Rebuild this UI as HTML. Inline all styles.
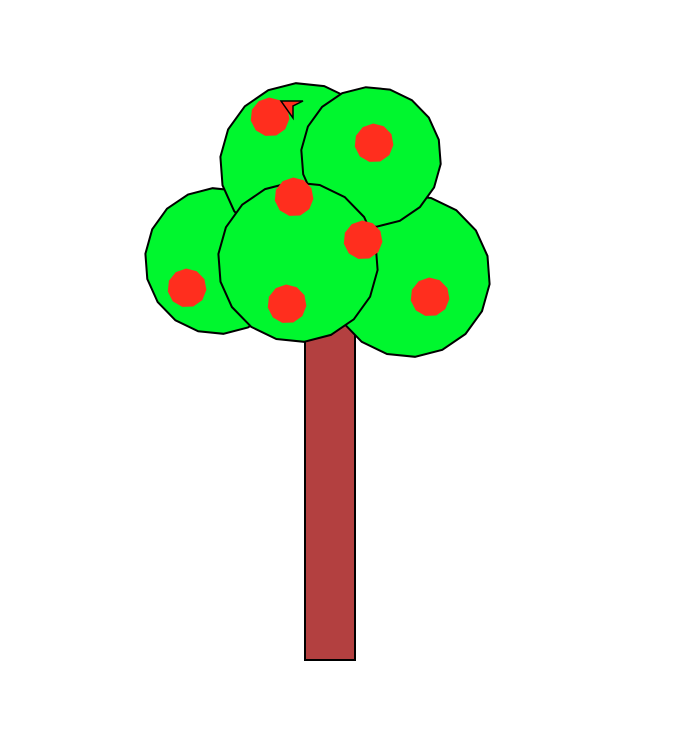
<!DOCTYPE html>
<html><head><meta charset="utf-8"><style>html,body{margin:0;padding:0;background:#fff}svg{display:block}</style></head>
<body>
<svg id="s" width="676" height="756" viewBox="0 0 676 756">
<rect x="305" y="300" width="50" height="360" fill="#b34040" stroke="#000" stroke-width="2"/>
</svg>
<script>
const s=document.getElementById('s');
const NS='http://www.w3.org/2000/svg';
function poly(cx,cy,r,n,fill,stroke,name){
  const p=document.createElementNS(NS,'polygon');
  let pts=[];
  for(let i=0;i<n;i++){const a=2*Math.PI*i/n+0.1;pts.push((cx+r*Math.cos(a)).toFixed(1)+','+(cy+r*Math.sin(a)).toFixed(1));}
  p.setAttribute('points',pts.join(' '));
  p.setAttribute('fill',fill);
  if(stroke){p.setAttribute('stroke','#000');p.setAttribute('stroke-width','2');}
  
  
  s.appendChild(p);
}
const G='#00f72e',R='#ff2e1e';
poly(218,261,73,18,G,1,'foliage-left');
poly(409,276,81,18,G,1,'foliage-right');
poly(302,165,82,18,G,1,'foliage-top-left');
poly(371,157,70,18,G,1,'foliage-top-right');
poly(298,262,80,18,G,1,'foliage-center');
[[270,117],[374,143],[294,197],[363,240],[187,288],[287,304],[430,297]].forEach((a,i)=>poly(a[0],a[1],19.5,11,R,0,'apple'));
const t=document.createElementNS(NS,'polygon');
t.setAttribute('points','281,101 303,101 293,106 293,118');
t.setAttribute('fill',R);t.setAttribute('stroke','#000');t.setAttribute('stroke-width','1.5');


s.appendChild(t);
</script>
</body></html>
